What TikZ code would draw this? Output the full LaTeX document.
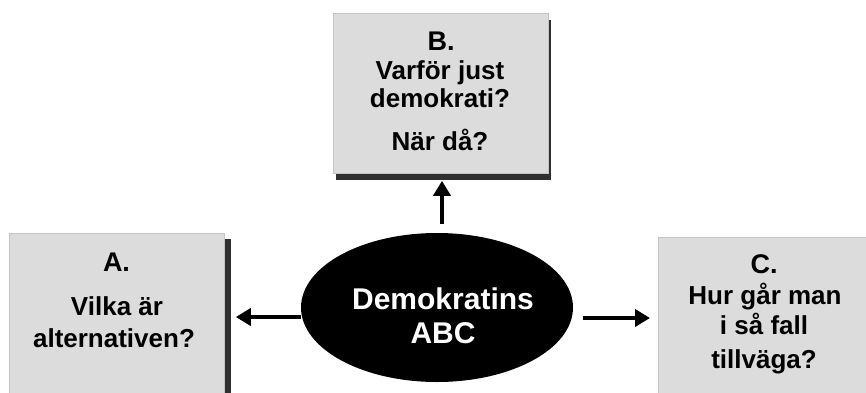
\documentclass[tikz,border=0pt]{standalone}
\usepackage{fontspec}
\setmainfont{Liberation Sans}
\usetikzlibrary{arrows.meta,shadows,shapes.geometric,calc}
\definecolor{boxfill}{HTML}{DCDCDC}
\definecolor{boxline}{HTML}{C4C4C4}
\definecolor{shadowcol}{HTML}{303030}
\begin{document}
\begin{tikzpicture}[x=1pt,y=1pt,
  box/.style={draw=boxline,line width=0.8pt,fill=boxfill,anchor=north west,inner sep=0pt},
  head/.style={font=\fontsize{27}{30}\selectfont\bfseries,anchor=base,inner sep=0pt,text=black},
  qtext/.style={font=\fontsize{26}{30}\selectfont\bfseries,anchor=base,inner sep=0pt,text=black},
  etext/.style={font=\fontsize{30}{34}\selectfont\bfseries,anchor=base,inner sep=0pt,text=white},
  arr/.style={line width=4pt,-{Triangle[width=17pt,length=15pt]}}]
\useasboundingbox (0,0) rectangle (866,392);
\clip (0,0) rectangle (866,392);
\fill[white] (0,0) rectangle (866,392);

% boxes with shadows
\node[box,minimum width=215pt,minimum height=200pt,
  drop shadow={shadow xshift=7pt,shadow yshift=-6pt,opacity=1,fill=shadowcol}] (boxA) at (9,159) {};
\node[box,minimum width=215pt,minimum height=160pt,
  drop shadow={shadow xshift=3pt,shadow yshift=-7pt,opacity=1,fill=shadowcol}] (boxB) at (333,379) {};
\node[box,minimum width=220pt,minimum height=200pt,
  drop shadow={shadow xshift=6pt,shadow yshift=-6pt,opacity=1,fill=shadowcol}] (boxC) at (658,155) {};

% ellipse
\node[ellipse,fill=black,minimum width=272pt,minimum height=149pt,inner sep=0pt] (ell) at (437,84.5) {};

% texts A
\node[head] (aHead) at (116.5,121) {A.};
\node[qtext] (aL1) at (117,77) {Vilka är};
\node[qtext] (aL2) at (114,45) {alternativen?};
% texts B
\node[head] (bHead) at (441,342) {B.};
\node[qtext] (bL1) at (440,313) {Varför just};
\node[qtext] (bL2) at (440,285) {demokrati?};
\node[qtext] (bL3) at (440,242) {När då?};
% texts C
\node[head] (cHead) at (764,119) {C.};
\node[qtext] (cL1) at (765,88) {Hur går man};
\node[qtext] (cL2) at (764,58) {i så fall};
\node[qtext] (cL3) at (764,24) {tillväga?};
% ellipse text
\node[etext] (eL1) at (443,83) {Demokratins};
\node[etext] (eL2) at (443,49) {ABC};

% arrows
\draw[arr,shorten <=9pt,shorten >=7pt] ([xshift=5pt]ell.north) -- ([xshift=5pt]ell.north |- boxB.south);
\draw[arr,shorten >=11pt] ([yshift=-9.5pt]ell.west) -- ([yshift=-9.5pt]ell.west -| boxA.east);
\draw[arr,shorten <=10pt,shorten >=8pt] ([yshift=-10.5pt]ell.east) -- ([yshift=-10.5pt]ell.east -| boxC.west);
\end{tikzpicture}
\end{document}
